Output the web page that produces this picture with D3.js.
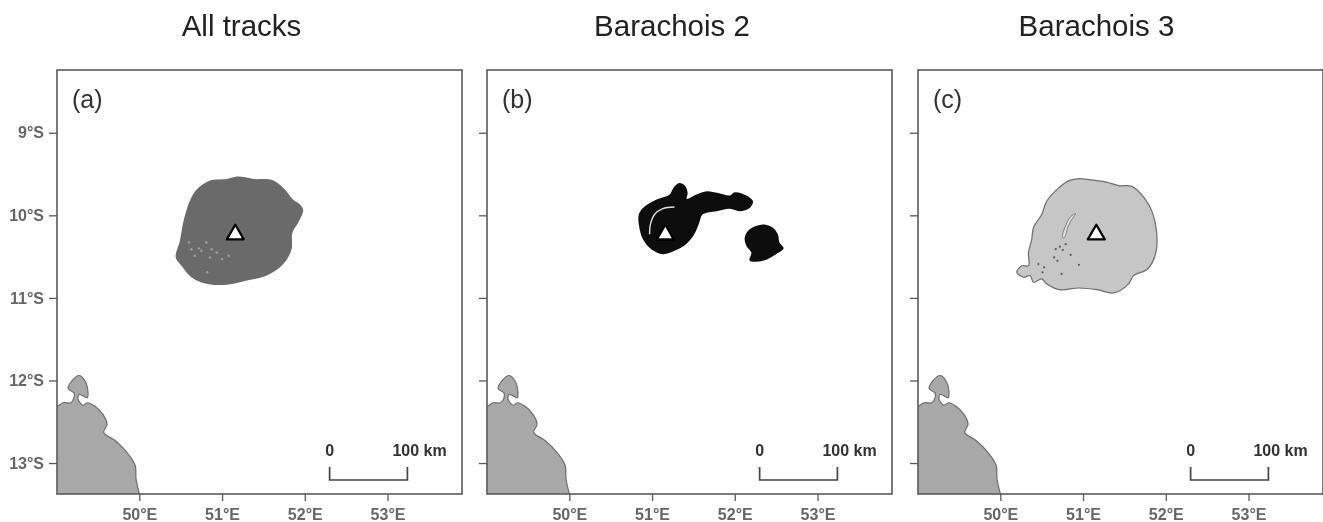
<!DOCTYPE html>
<html>
<head>
<meta charset="utf-8">
<script src="https://cdn.jsdelivr.net/npm/d3@7/dist/d3.min.js"></script>
<style>
html,body{margin:0;padding:0;background:#fff;}
svg{display:block;}
text{font-family:"Liberation Sans",Arial,sans-serif;}
</style>
</head>
<body>
<div id="chart"></div>
<script>
const titles = ["All tracks", "Barachois 2", "Barachois 3"];
const panelLabels = ["(a)", "(b)", "(c)"];
const lonTicks = [50, 51, 52, 53];
const latTicks = [9, 10, 11, 12, 13];
const lonDomain = [49.005, 53.9];
const latDomain = [8.24, 13.375];
const colonyLocation = [51.16, 10.22];
const scaleBarLon = [52.3, 53.24];
const scaleBarLabels = ["0", "100 km"];

const landOutline = [[48.7,12.33],[48.9,12.33],[49.01,12.31],[49.08,12.27],[49.17,12.27],[49.21,12.21],[49.21,12.15],[49.14,12.10],[49.19,12.00],[49.27,11.94],[49.34,12.00],[49.38,12.15],[49.37,12.21],[49.31,12.18],[49.27,12.17],[49.26,12.23],[49.32,12.30],[49.37,12.27],[49.46,12.31],[49.56,12.41],[49.61,12.53],[49.57,12.63],[49.71,12.73],[49.85,12.87],[49.95,13.03],[49.96,13.19],[50.0,13.375],[50.05,13.6],[50.0,13.8],[48.7,13.8]];

const allTracks = [[51.18,9.53],[51.28,9.54],[51.38,9.56],[51.60,9.57],[51.74,9.67],[51.86,9.81],[51.92,9.85],[51.98,9.93],[51.92,10.09],[51.85,10.21],[51.84,10.41],[51.74,10.59],[51.54,10.73],[51.30,10.79],[51.06,10.84],[50.81,10.83],[50.63,10.75],[50.51,10.61],[50.44,10.51],[50.49,10.31],[50.53,10.09],[50.60,9.85],[50.69,9.69],[50.85,9.58],[51.06,9.56]];
const allTracksGaps = [[50.60,10.33],[50.63,10.41],[50.67,10.49],[50.72,10.40],[50.75,10.43],[50.81,10.33],[50.875,10.41],[50.935,10.45],[50.855,10.51],[51.0,10.53],[51.08,10.49],[50.82,10.69]];

const barachois2Main = [[51.33,9.61],[51.40,9.645],[51.43,9.73],[51.42,9.80],[51.53,9.75],[51.65,9.71],[51.80,9.73],[51.94,9.76],[52.00,9.72],[52.14,9.76],[52.22,9.83],[52.18,9.91],[52.06,9.95],[51.94,9.92],[51.78,9.95],[51.61,9.99],[51.57,10.09],[51.51,10.23],[51.41,10.35],[51.27,10.43],[51.13,10.47],[50.99,10.41],[50.89,10.29],[50.84,10.11],[50.84,9.99],[50.89,9.91],[51.05,9.81],[51.21,9.75],[51.26,9.665]];
const barachois2East = [[52.34,10.11],[52.46,10.15],[52.52,10.23],[52.54,10.33],[52.59,10.40],[52.50,10.47],[52.34,10.55],[52.18,10.55],[52.20,10.45],[52.14,10.37],[52.12,10.27],[52.18,10.17]];
const barachois2Arc = [[50.97,10.23],[50.98,10.11],[51.03,9.99],[51.13,9.92],[51.27,9.90]];

const barachois3 = [[50.95,9.556],[51.09,9.57],[51.29,9.60],[51.43,9.64],[51.59,9.65],[51.74,9.79],[51.84,9.97],[51.89,10.21],[51.88,10.45],[51.78,10.65],[51.61,10.73],[51.55,10.83],[51.37,10.94],[51.17,10.90],[50.95,10.88],[50.71,10.90],[50.56,10.83],[50.50,10.77],[50.40,10.81],[50.36,10.73],[50.28,10.75],[50.20,10.69],[50.26,10.61],[50.34,10.61],[50.34,10.45],[50.38,10.29],[50.40,10.15],[50.50,9.99],[50.56,9.83],[50.71,9.665],[50.83,9.58]];
const barachois3Sliver = [[50.91,9.98],[50.85,10.016],[50.795,10.11],[50.75,10.27],[50.775,10.27],[50.82,10.13],[50.87,10.04]];
const barachois3Gaps = [[50.67,10.41],[50.72,10.38],[50.755,10.42],[50.79,10.35],[50.85,10.48],[50.65,10.51],[50.69,10.55],[50.46,10.59],[50.53,10.63],[50.51,10.69],[50.74,10.71],[50.95,10.60]];

const W = 1323, H = 522;
const panelWidth = 405, panelTop = 70, panelBottom = 494;
const panelLefts = [57, 487, 918];
const titleCentres = [241.5, 672, 1096.5];

const svg = d3.select("#chart").append("svg").attr("width", W).attr("height", H);
const defs = svg.append("defs");
defs.append("filter").attr("id", "soft").attr("x", "-5%").attr("y", "-5%").attr("width", "110%").attr("height", "110%")
  .append("feGaussianBlur").attr("stdDeviation", 0.7);

const root = svg.append("g").attr("filter", "url(#soft)");
const y = d3.scaleLinear().domain(latDomain).range([panelTop, panelBottom]);
const tri = d3.symbol().type(d3.symbolTriangle).size(125);

panelLefts.forEach((left, i) => {
  const x = d3.scaleLinear().domain(lonDomain).range([left, left + panelWidth]);
  const closed = d3.line().x(d => x(d[0])).y(d => y(d[1])).curve(d3.curveCatmullRomClosed.alpha(0.5));
  const open = d3.line().x(d => x(d[0])).y(d => y(d[1])).curve(d3.curveCatmullRom.alpha(0.5));
  const g = root.append("g");

  defs.append("clipPath").attr("id", "clip" + i).append("rect")
    .attr("x", left).attr("y", panelTop).attr("width", panelWidth).attr("height", panelBottom - panelTop);

  const map = g.append("g").attr("clip-path", `url(#clip${i})`);
  map.append("path").attr("d", closed(landOutline))
    .attr("fill", "#a8a8a8").attr("stroke", "#6e6e6e").attr("stroke-width", 1.2);

  if (i === 0) {
    map.append("path").attr("d", closed(allTracks)).attr("fill", "#6a6a6a");
    map.selectAll("circle.gap").data(allTracksGaps).join("circle").attr("class", "gap")
      .attr("cx", d => x(d[0])).attr("cy", d => y(d[1])).attr("r", 1.2).attr("fill", "#a0a0a0");
  } else if (i === 1) {
    map.append("path").attr("d", closed(barachois2Main)).attr("fill", "#0c0c0c");
    map.append("path").attr("d", closed(barachois2East)).attr("fill", "#0c0c0c");
    map.append("path").attr("d", open(barachois2Arc)).attr("fill", "none")
      .attr("stroke", "#e0e0e0").attr("stroke-width", 1.4);
  } else {
    map.append("path").attr("d", closed(barachois3)).attr("fill", "#c6c6c6")
      .attr("stroke", "#6e6e6e").attr("stroke-width", 1.2);
    map.append("path").attr("d", closed(barachois3Sliver)).attr("fill", "#e0e0e0")
      .attr("stroke", "#777").attr("stroke-width", 0.9);
    map.selectAll("circle.gap").data(barachois3Gaps).join("circle").attr("class", "gap")
      .attr("cx", d => x(d[0])).attr("cy", d => y(d[1])).attr("r", 1.1).attr("fill", "#5c5c5c");
  }

  g.append("path").attr("d", tri())
    .attr("transform", `translate(${x(colonyLocation[0])},${y(colonyLocation[1]) + 1})`)
    .attr("fill", "#fff").attr("stroke", "#000").attr("stroke-width", 2.2).attr("stroke-linejoin", "round");

  g.append("rect").attr("x", left).attr("y", panelTop).attr("width", panelWidth).attr("height", panelBottom - panelTop)
    .attr("fill", "none").attr("stroke", "#5a5a5a").attr("stroke-width", 1.6);

  const xAxis = g.append("g").attr("transform", `translate(0,${panelBottom})`)
    .call(d3.axisBottom(x).tickValues(lonTicks).tickSize(7).tickPadding(7.5).tickFormat(d => d + "°E"));
  xAxis.select(".domain").remove();
  xAxis.selectAll("line").attr("stroke", "#5a5a5a").attr("stroke-width", 1.3);
  xAxis.selectAll("text").attr("font-size", 16).attr("font-weight", 700).attr("fill", "#666")
    .style("font-family", '"Liberation Sans",Arial,sans-serif');

  const yAxis = g.append("g").attr("transform", `translate(${left},0)`)
    .call(d3.axisLeft(y).tickValues(latTicks).tickSize(8).tickPadding(5).tickFormat(d => i === 0 ? d + "°S" : ""));
  yAxis.select(".domain").remove();
  yAxis.selectAll("line").attr("stroke", "#5a5a5a").attr("stroke-width", 1.3);
  yAxis.selectAll("text").attr("font-size", 16).attr("font-weight", 700).attr("fill", "#666")
    .style("font-family", '"Liberation Sans",Arial,sans-serif');

  const bx0 = x(scaleBarLon[0]), bx1 = x(scaleBarLon[1]);
  g.append("path").attr("d", `M${bx0},467V480H${bx1}V467`).attr("fill", "none")
    .attr("stroke", "#444").attr("stroke-width", 1.7);
  g.append("text").attr("x", bx0).attr("y", 456).attr("text-anchor", "middle")
    .attr("font-size", 16).attr("font-weight", 700).attr("fill", "#333").text(scaleBarLabels[0]);
  g.append("text").attr("x", bx1 - 15).attr("y", 456).attr("text-anchor", "start")
    .attr("font-size", 16).attr("font-weight", 700).attr("fill", "#333").text(scaleBarLabels[1]);

  g.append("text").attr("x", left + 15).attr("y", 108)
    .attr("font-size", 25).attr("fill", "#333").text(panelLabels[i]);

  g.append("text").attr("x", titleCentres[i]).attr("y", 36).attr("text-anchor", "middle")
    .attr("font-size", 29.5).attr("fill", "#222").text(titles[i]);
});
</script>
</body>
</html>
